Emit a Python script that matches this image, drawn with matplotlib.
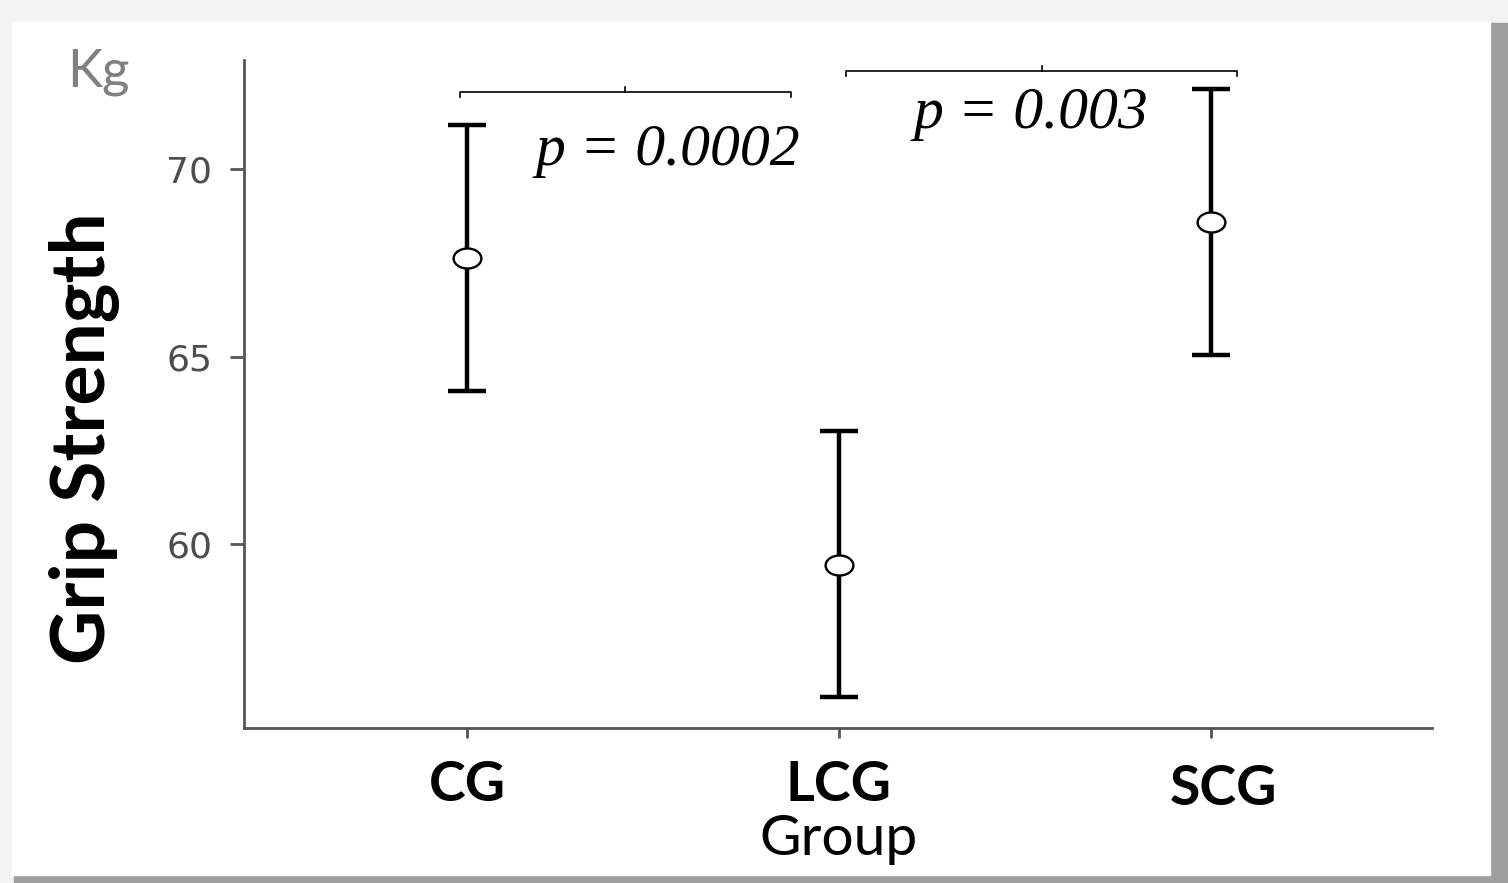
import numpy as np
import matplotlib.pyplot as plt
from matplotlib.patches import Rectangle
from matplotlib.path import Path
from matplotlib.transforms import Affine2D, ScaledTranslation

groups = ["CG", "LCG", "SCG"]
means = [67.62, 59.44, 68.58]
upper = [71.17, 63.0, 72.13]
lower = [64.08, 55.92, 65.05]
p_labels = ["p = 0.0002", "p = 0.003"]

x = np.arange(1, len(groups) + 1)
yerr = [np.array(means) - np.array(lower), np.array(upper) - np.array(means)]

fig = plt.figure(figsize=(15.08, 8.83), dpi=100)
fig.patch.set_facecolor("#f3f3f3")

# slide-like frame with shadow
fig.patches.append(Rectangle((1490 / 1508, 0), 18 / 1508, 860 / 883,
                             transform=fig.transFigure, color="#9e9e9e", zorder=-3))
fig.patches.append(Rectangle((14 / 1508, 0), 1494 / 1508, 8 / 883,
                             transform=fig.transFigure, color="#9e9e9e", zorder=-3))
fig.patches.append(Rectangle((12 / 1508, 8 / 883), 1478 / 1508, 853 / 883,
                             transform=fig.transFigure, color="white", zorder=-2))

ax = fig.add_axes([244 / 1508, 155 / 883, (1432 - 244) / 1508, (728 - 60) / 883])
ax.set_facecolor("none")

ax.errorbar(x, means, yerr=yerr, fmt="none", ecolor="black", elinewidth=3.2,
            capsize=13.5, capthick=3.2, zorder=2)
# slightly flattened open circle
oval = Path.unit_circle().transformed(Affine2D().scale(1.0, 0.72))
ax.plot(x, means, linestyle="none", marker=oval, ms=20, mfc="white", mec="black",
        mew=1.7, zorder=3)

ax.set_xlim(0.4, 3.595)
ax.set_ylim(55.09, 72.91)
ax.set_yticks([60, 65, 70])
ax.set_xticks(x)
ax.set_xticklabels(groups)

for side in ["top", "right"]:
    ax.spines[side].set_visible(False)
for side in ["left", "bottom"]:
    ax.spines[side].set_color("#555555")
    ax.spines[side].set_linewidth(2)

ax.tick_params(axis="y", length=10, width=2, color="#555555", pad=13,
               labelsize=26, labelcolor="#4d4d4d")
ax.tick_params(axis="x", length=7, width=2, color="#555555", pad=16, labelsize=40)
for lab in ax.get_yticklabels():
    lab.set_family("DejaVu Sans")
for lab in ax.get_xticklabels():
    lab.set_family("Lato")
    lab.set_fontweight("bold")
scg = ax.get_xticklabels()[2]
scg.set_transform(scg.get_transform() + ScaledTranslation(0.13, -0.04, fig.dpi_scale_trans))

ax.set_xlabel("Group", fontsize=41, family="Lato", labelpad=0)
fig.text(85 / 1508, 1 - 438 / 883, "Grip Strength", rotation=90, fontsize=54,
         family="Lato", fontweight="bold", ha="center", va="center")
fig.text(98 / 1508, 1 - 72 / 883, "Kg", fontsize=38, family="Lato",
         color="#808080", ha="center", va="center")

# significance brackets
brackets = [(0.98, 1.87, 72.05), (2.02, 3.07, 72.61)]
for x0, x1, yb in brackets:
    xm = (x0 + x1) / 2
    ax.plot([x0, x0, x1, x1], [yb - 0.12, yb, yb, yb - 0.12], color="black",
            lw=1.2, clip_on=False)
    ax.plot([xm, xm], [yb, yb + 0.13], color="black", lw=1.2, clip_on=False)

ax.text(1.185, 70.1, p_labels[0], fontsize=43, family="Liberation Serif",
        style="italic", ha="left", va="baseline")
ax.text(2.2, 71.1, p_labels[1], fontsize=43, family="Liberation Serif",
        style="italic", ha="left", va="baseline")

fig.savefig("out.png", dpi=100, facecolor=fig.get_facecolor())
